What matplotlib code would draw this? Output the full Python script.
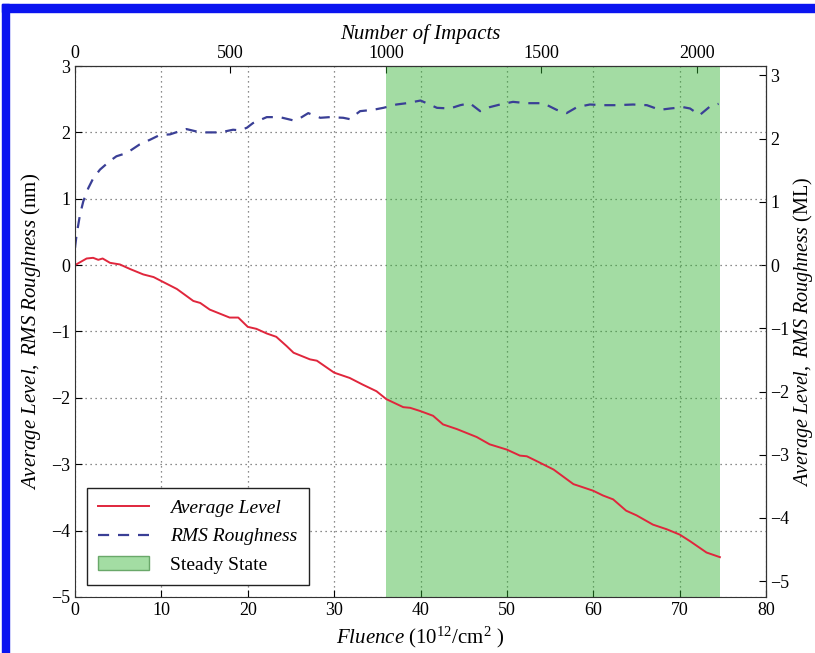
import matplotlib
matplotlib.use("Agg")
import matplotlib.pyplot as plt
from matplotlib.patches import Rectangle, Patch
from matplotlib.lines import Line2D

plt.rcParams['font.family'] = ['Liberation Serif', 'DejaVu Serif']
plt.rcParams['mathtext.fontset'] = 'custom'
plt.rcParams['mathtext.rm'] = 'Liberation Serif'
plt.rcParams['mathtext.it'] = 'Liberation Serif:italic'
plt.rcParams['mathtext.bf'] = 'Liberation Serif:bold'

# Average level (nm) vs fluence (10^12/cm^2)
avg_x = [0, 1.35, 2.1, 2.7, 3.2, 4.05, 5.2, 6.4, 7.9, 9.1, 10.0, 11.8, 13.7, 14.5, 15.6,
         17.9, 18.9, 20.0, 21.0, 22.2, 23.3, 24.5, 25.3, 27.2, 28.0, 30.0, 31.8, 33.3,
         34.9, 36.05, 38.0, 38.8, 40.0, 41.45, 42.6, 44.2, 46.5, 48.0, 50.0, 51.5, 52.3,
         53.4, 55.4, 57.7, 58.4, 60.0, 61.1, 62.3, 63.8, 65.0, 66.9, 68.5, 70.0, 71.2,
         73.1, 74.65]
avg_y = [0.0, 0.10, 0.11, 0.08, 0.10, 0.035, 0.01, -0.06, -0.14, -0.18, -0.24, -0.36,
         -0.54, -0.57, -0.67, -0.79, -0.79, -0.93, -0.96, -1.03, -1.08, -1.22, -1.32,
         -1.42, -1.44, -1.62, -1.70, -1.80, -1.90, -2.02, -2.14, -2.15, -2.20, -2.27,
         -2.40, -2.47, -2.59, -2.70, -2.78, -2.87, -2.88, -2.95, -3.08, -3.30, -3.33,
         -3.40, -3.47, -3.53, -3.70, -3.77, -3.91, -3.98, -4.06, -4.16, -4.33, -4.40]

# RMS roughness (nm) vs fluence
rms_x = [0, 0.19, 0.58, 0.96, 1.54, 2.12, 2.9, 4.05, 4.8, 6.0, 7.5, 8.7, 9.8, 11.0,
         12.15, 12.9, 14.5, 16.8, 18.3, 19.1, 19.9, 20.6, 22.2, 23.7, 25.3, 26.0, 27.0,
         28.4, 29.5, 31.05, 31.8, 33.0, 34.5, 35.7, 37.2, 38.4, 40.0, 40.7, 41.9, 43.4,
         44.6, 45.7, 46.9, 48.0, 49.2, 50.7, 52.3, 54.2, 55.75, 56.9, 58.1, 59.6, 61.2,
         62.7, 64.6, 66.2, 67.7, 68.9, 70.4, 71.2, 72.3, 73.5, 74.5]
rms_y = [0.26, 0.46, 0.76, 0.96, 1.16, 1.31, 1.44, 1.57, 1.64, 1.69, 1.82, 1.89, 1.96,
         1.97, 2.02, 2.05, 2.00, 2.00, 2.04, 2.03, 2.07, 2.14, 2.23, 2.23, 2.18, 2.21,
         2.29, 2.22, 2.23, 2.22, 2.20, 2.32, 2.34, 2.37, 2.42, 2.44, 2.48, 2.44, 2.37,
         2.36, 2.41, 2.44, 2.32, 2.38, 2.42, 2.46, 2.44, 2.44, 2.34, 2.29, 2.38, 2.42,
         2.41, 2.41, 2.42, 2.41, 2.34, 2.36, 2.38, 2.36, 2.26, 2.39, 2.43]

steady_start = 36.05
steady_end = 74.65
impacts_per_fluence = 1000 / 36.0
ml_per_nm = 1.05

x_ticks = [0, 10, 20, 30, 40, 50, 60, 70, 80]
y_ticks = [-5, -4, -3, -2, -1, 0, 1, 2, 3]
top_ticks = [0, 500, 1000, 1500, 2000]
right_ticks = [-5, -4, -3, -2, -1, 0, 1, 2, 3]

fig = plt.figure(figsize=(8.15, 6.53), dpi=100)
ax = fig.add_axes([0.092, 0.0858, 0.848, 0.8131])

ax.set_axisbelow(True)
ax.grid(True, linestyle=(0, (1, 3)), color='#666666', linewidth=0.9)
ax.axvspan(steady_start, steady_end, color=(0.2, 0.7, 0.2), alpha=0.45, lw=0)
ax.plot(avg_x, avg_y, color='#e0263c', lw=1.4)
ax.plot(rms_x, rms_y, color='#3a3f96', lw=1.6, dashes=(5, 4))

ax.set_xlim(0, 80)
ax.set_ylim(-5, 3)
ax.set_xticks(x_ticks)
ax.set_yticks(y_ticks)
ax.set_yticklabels([str(t).replace('-', '\u2212') for t in y_ticks])
ax.tick_params(direction='in', labelsize=13, length=5, top=False, right=False)
for s in ax.spines.values():
    s.set_color('#333333')

ax.set_xlabel(r'$\it{Fluence}$ (10$^{12}$/cm$^2$ )', fontsize=15, labelpad=4)
ax.set_ylabel(r'$\it{Average\ Level,\ RMS\ Roughness}$ (nm)', fontsize=15, labelpad=6)

top = ax.secondary_xaxis('top', functions=(lambda x: x * impacts_per_fluence,
                                            lambda n: n / impacts_per_fluence))
top.set_xticks(top_ticks)
top.tick_params(direction='in', labelsize=13, length=5, pad=3)
top.set_xlabel('Number of Impacts', fontsize=15, style='italic', labelpad=4)

right = ax.secondary_yaxis('right', functions=(lambda y: y * ml_per_nm,
                                                lambda m: m / ml_per_nm))
right.set_yticks(right_ticks)
right.set_yticklabels([str(t).replace('-', '\u2212') for t in right_ticks])
right.tick_params(direction='in', labelsize=13, length=5, pad=3)
right.set_ylabel(r'$\it{Average\ Level,\ RMS\ Roughness}$ (ML)', fontsize=14.5, labelpad=1)

handles = [Line2D([], [], color='#e0263c', lw=1.4),
           Line2D([], [], color='#3a3f96', lw=1.6, dashes=(5, 4)),
           Patch(facecolor=(0.64, 0.865, 0.64), edgecolor='#6aa86a')]
labels = ['Average Level', 'RMS Roughness', 'Steady State']
leg = ax.legend(handles, labels, loc='lower left', bbox_to_anchor=(0.0, 0.0),
                borderaxespad=0.6, fontsize=14, fancybox=False, edgecolor='#222222',
                framealpha=1, handlelength=2.6, borderpad=0.6, labelspacing=0.55,
                handletextpad=1.1)
leg.get_frame().set_linewidth(1.0)
for t in leg.get_texts()[:2]:
    t.set_style('italic')

# blue frame of the original image
W, H = 815, 653
fig.patches.append(Rectangle((2 / W, 0), 7 / W, (H - 4) / H, transform=fig.transFigure,
                             color='#0a14f0', zorder=10))
fig.patches.append(Rectangle((2 / W, 1 - 12 / H), 1, 8 / H, transform=fig.transFigure,
                             color='#0a14f0', zorder=10))

fig.savefig('out.png', dpi=100)
